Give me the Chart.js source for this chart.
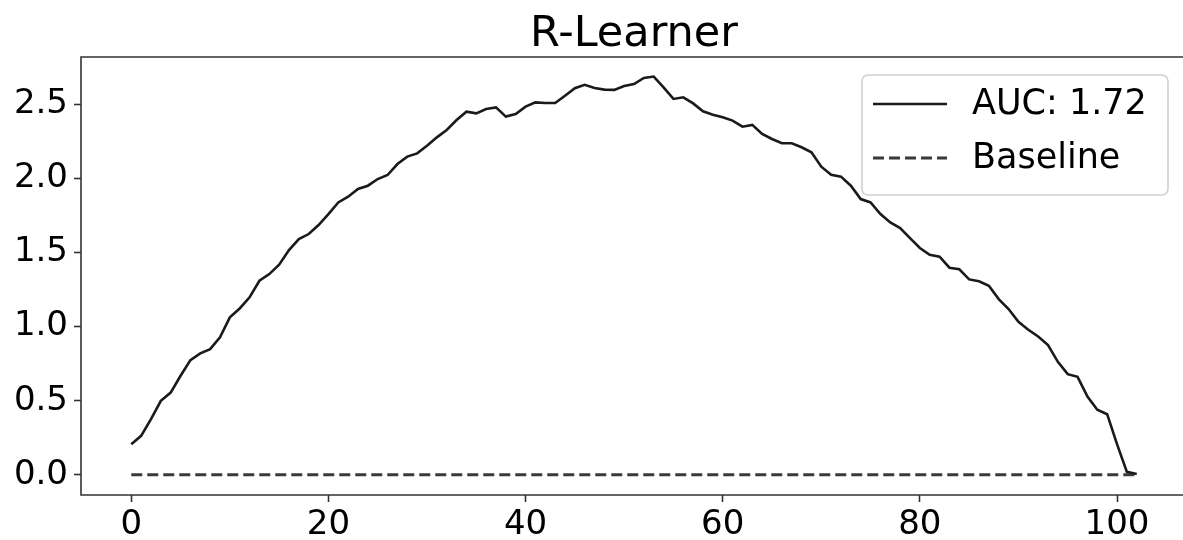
<!DOCTYPE html>
<html>
<head>
<meta charset="utf-8">
<script src="https://cdn.jsdelivr.net/npm/chart.js@4/dist/chart.umd.min.js"></script>
<style>
  html, body { margin: 0; padding: 0; background: #fff; overflow: hidden; }
  #wrap { width: 1183px; height: 540px; overflow: hidden; }
</style>
</head>
<body>
<div id="wrap"><canvas id="uplift" width="1230" height="540"></canvas></div>
<script>
const chartTitle = "R-Learner";
const curveLabel = "AUC: 1.72";
const baselineLabel = "Baseline";

// cumulative uplift per step
const upliftCurve = [
  0.207, 0.263, 0.376, 0.499, 0.555, 0.668, 0.774, 0.819, 0.848, 0.927,
  1.062, 1.122, 1.197, 1.309, 1.354, 1.417, 1.516, 1.590, 1.624, 1.685,
  1.759, 1.837, 1.876, 1.928, 1.950, 1.995, 2.022, 2.096, 2.146, 2.168,
  2.220, 2.276, 2.326, 2.393, 2.449, 2.438, 2.467, 2.478, 2.416, 2.434,
  2.483, 2.512, 2.508, 2.508, 2.557, 2.607, 2.630, 2.609, 2.598, 2.596,
  2.622, 2.636, 2.677, 2.686, 2.613, 2.535, 2.546, 2.505, 2.452, 2.429,
  2.411, 2.389, 2.348, 2.360, 2.299, 2.265, 2.236, 2.236, 2.209, 2.175,
  2.078, 2.024, 2.011, 1.950, 1.860, 1.837, 1.759, 1.702, 1.664, 1.597,
  1.530, 1.484, 1.471, 1.397, 1.386, 1.318, 1.305, 1.275, 1.185, 1.118,
  1.032, 0.978, 0.933, 0.875, 0.762, 0.679, 0.661, 0.528, 0.439, 0.409,
  0.207, 0.020, 0.005,
];
const baselineValue = 0;

const xTicks = [0, 20, 40, 60, 80, 100];
const yTicks = [0, 0.5, 1.0, 1.5, 2.0, 2.5];

const FONT = "'DejaVu Sans', sans-serif";
const INK = "#000000";
const SPINE = "#333333";

const lastStep = upliftCurve.length - 1;
const curvePoints = upliftCurve.map((v, i) => ({ x: i, y: v }));
const baselinePoints = [
  { x: 0, y: baselineValue },
  { x: lastStep, y: baselineValue },
];

// axes spines + matplotlib-ish legend box in the upper right
const framePlugin = {
  id: "frame",
  afterDraw(chart) {
    const { ctx, chartArea: a } = chart;
    ctx.save();
    ctx.strokeStyle = SPINE;
    ctx.lineWidth = 1.6;
    ctx.beginPath();
    ctx.moveTo(a.right, a.top);
    ctx.lineTo(a.left, a.top);
    ctx.lineTo(a.left, a.bottom);
    ctx.lineTo(a.right, a.bottom);
    ctx.stroke();

    // legend
    const bx = 862, by = 75, bw = 306, bh = 120, r = 6;
    ctx.beginPath();
    ctx.moveTo(bx + r, by);
    ctx.arcTo(bx + bw, by, bx + bw, by + bh, r);
    ctx.arcTo(bx + bw, by + bh, bx, by + bh, r);
    ctx.arcTo(bx, by + bh, bx, by, r);
    ctx.arcTo(bx, by, bx + bw, by, r);
    ctx.closePath();
    ctx.fillStyle = "rgba(255,255,255,0.8)";
    ctx.fill();
    ctx.strokeStyle = "#d0d0d0";
    ctx.lineWidth = 1.6;
    ctx.stroke();

    const rows = [
      { ds: chart.data.datasets[0], y: 104 },
      { ds: chart.data.datasets[1], y: 158 },
    ];
    ctx.font = "35px " + FONT;
    ctx.textBaseline = "middle";
    ctx.textAlign = "left";
    rows.forEach(({ ds, y }) => {
      ctx.beginPath();
      ctx.setLineDash(ds.borderDash || []);
      ctx.strokeStyle = ds.borderColor;
      ctx.lineWidth = ds.borderWidth;
      ctx.moveTo(873, y);
      ctx.lineTo(947, y);
      ctx.stroke();
      ctx.setLineDash([]);
      ctx.fillStyle = INK;
      ctx.fillText(ds.label, 972, y + 1);
    });
    ctx.restore();
  },
};

new Chart(document.getElementById("uplift"), {
  type: "line",
  data: {
    datasets: [
      {
        label: curveLabel,
        data: curvePoints,
        borderColor: "#1a1a1a",
        borderWidth: 2.6,
        pointRadius: 0,
        tension: 0,
      },
      {
        label: baselineLabel,
        data: baselinePoints,
        borderColor: "#3a3a3a",
        borderWidth: 3,
        borderDash: [11, 5],
        pointRadius: 0,
        tension: 0,
      },
    ],
  },
  options: {
    responsive: false,
    animation: false,
    layout: { padding: { left: 0, right: 43, top: 0, bottom: 0 } },
    plugins: {
      legend: { display: false },
      tooltip: { enabled: false },
      title: {
        display: true,
        fullSize: false,
        text: chartTitle,
        color: INK,
        font: { family: FONT, size: 43, weight: "normal", lineHeight: 1.0 },
        padding: { top: 13, bottom: 1 },
      },
    },
    scales: {
      x: {
        type: "linear",
        min: -5.1,
        max: 107.1,
        afterBuildTicks: (scale) => {
          scale.ticks = xTicks.map((v) => ({ value: v }));
        },
        afterFit: (scale) => {
          scale.height = 45;
        },
        border: { display: false },
        grid: {
          drawOnChartArea: false,
          drawTicks: true,
          tickLength: 7,
          tickWidth: 1.6,
          tickColor: SPINE,
        },
        ticks: {
          color: INK,
          padding: 3,
          maxRotation: 0,
          font: { family: FONT, size: 34 },
          callback: (v) => String(v),
        },
      },
      y: {
        type: "linear",
        min: -0.136,
        max: 2.818,
        afterBuildTicks: (scale) => {
          scale.ticks = yTicks.map((v) => ({ value: v }));
        },
        afterFit: (scale) => {
          scale.width = 81;
        },
        border: { display: false },
        grid: {
          drawOnChartArea: false,
          drawTicks: true,
          tickLength: 7,
          tickWidth: 1.6,
          tickColor: SPINE,
        },
        ticks: {
          color: INK,
          padding: 6,
          font: { family: FONT, size: 34 },
          callback: (v) => v.toFixed(1),
        },
      },
    },
  },
  plugins: [framePlugin],
});
</script>
</body>
</html>
